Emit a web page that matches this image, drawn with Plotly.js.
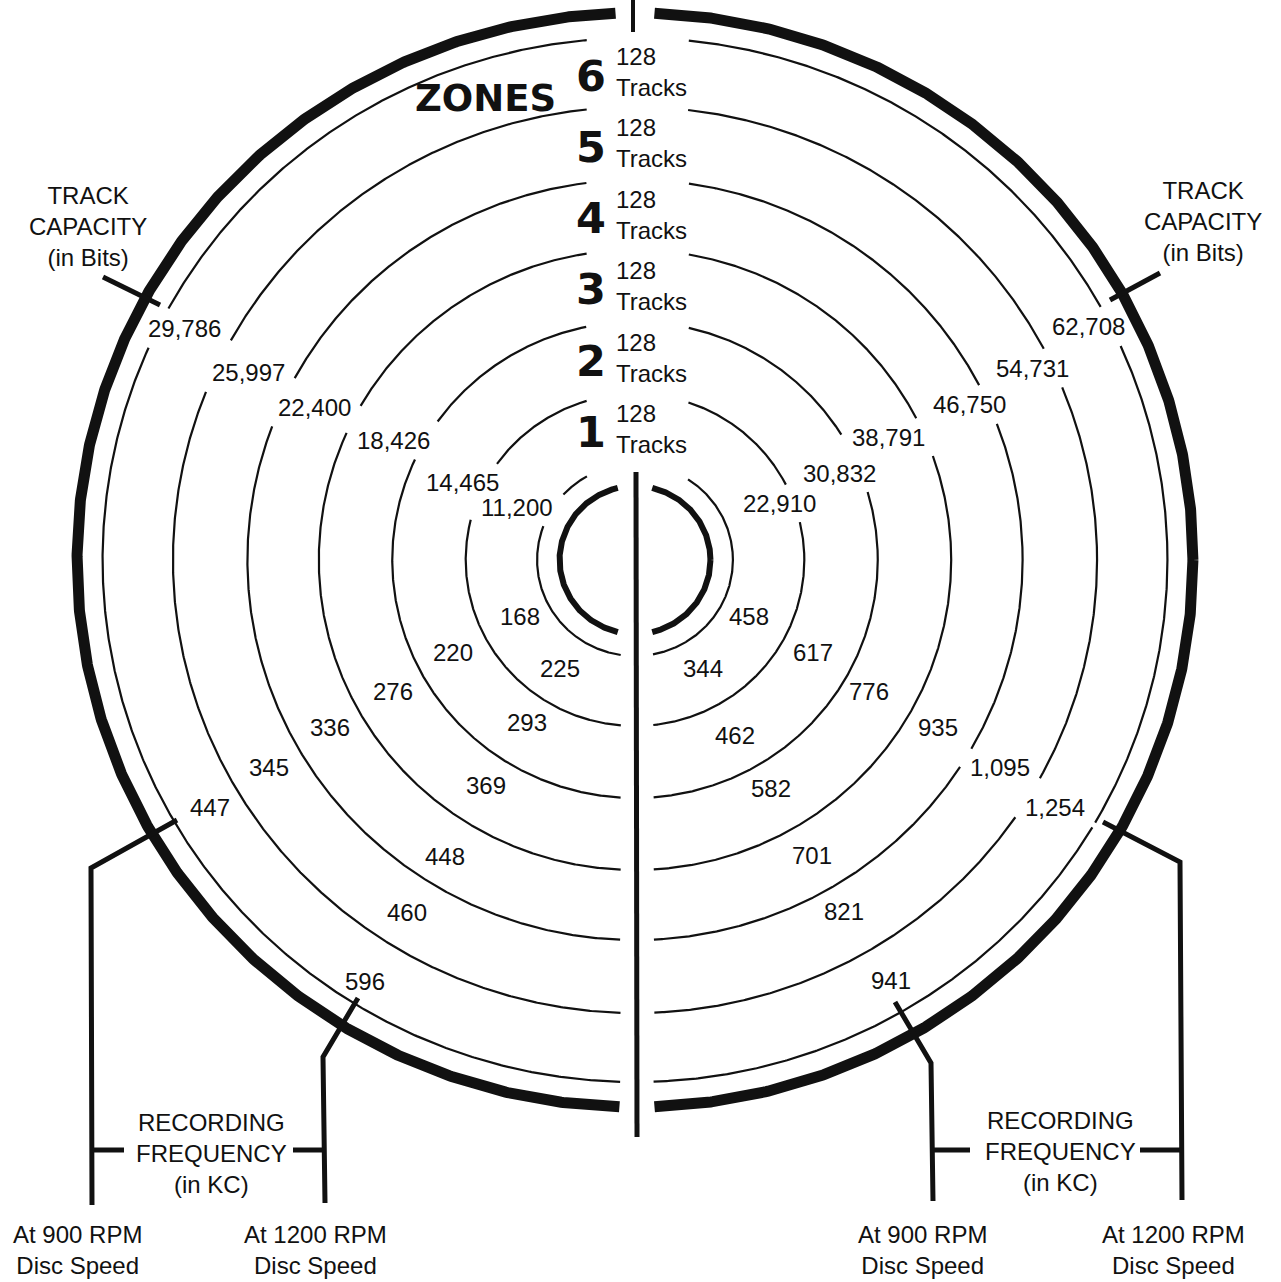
<!DOCTYPE html>
<html>
<head>
<meta charset="utf-8">
<script src="https://cdn.plot.ly/plotly-3.0.1.min.js"></script>
<style>
  html, body { margin: 0; padding: 0; background: #fff; }
  #disc { width: 1281px; height: 1282px; }
</style>
</head>
<body>
<div id="disc"></div>
<script>
/* ---- Disc zone data (zone 1 = innermost) ---- */
const zoneNames = ['1', '2', '3', '4', '5', '6'];
const tracksPerZone = [128, 128, 128, 128, 128, 128];
const capacityLeft = ['11,200', '14,465', '18,426', '22,400', '25,997', '29,786'];
const capacityRight = ['22,910', '30,832', '38,791', '46,750', '54,731', '62,708'];
const freqLeft900 = ['168', '220', '276', '336', '345', '447'];
const freqLeft1200 = ['225', '293', '369', '448', '460', '596'];
const freqRight900 = ['344', '462', '582', '701', '821', '941'];
const freqRight1200 = ['458', '617', '776', '935', '1,095', '1,254'];

/* ---- Geometry (page pixels) ---- */
const CX = 635, CY = 560, SQUASH = 1.02;
const zoneEdges = [96, 166, 238, 310, 380, 453, 522];
const HUB_R = 74, RIM_R = 547;
const INK = '#111';
const FONT = 'Liberation Sans, Arial, sans-serif';

// where each number sits, zone 1 -> 6
const capLeftAt = [[517, 507], [462, 482], [393, 440], [314, 407], [248, 372], [184, 328]];
const capRightAt = [[779, 503], [839, 473], [888, 437], [969, 404], [1032, 368], [1088, 326]];
const fL900At = [[520, 616], [453, 652], [393, 691], [330, 727], [269, 767], [210, 807]];
const fL1200At = [[560, 668], [527, 722], [486, 785], [445, 856], [407, 912], [365, 981]];
const fR900At = [[703, 668], [735, 735], [771, 788], [812, 855], [844, 911], [891, 980]];
const fR1200At = [[749, 616], [813, 652], [869, 691], [938, 727], [1000, 767], [1055, 807]];

// groups: values, anchors, which zones' labels break the ring lines
const groups = [
  [capacityLeft, capLeftAt, [0, 1, 2, 3, 4, 5]],
  [capacityRight, capRightAt, [0, 1, 2, 3, 4, 5]],
  [freqLeft900, fL900At, []],
  [freqLeft1200, fL1200At, []],
  [freqRight900, fR900At, []],
  [freqRight1200, fR1200At, [4, 5]]
];

const numberLabels = [];
groups.forEach(([vals, at, cuts]) => {
  vals.forEach((v, i) => numberLabels.push({ text: v, x: at[i][0], y: at[i][1], cut: cuts.includes(i) }));
});

// boxes the zone rings are cut around
const gapBoxes = numberLabels.filter(l => l.cut).map(l => {
  const digits = l.text.replace(/,/g, '').length;
  const commas = l.text.length - digits;
  const w = digits * 13.3 + commas * 12;
  return [l.x - w / 2 - 7, l.x + w / 2 + 7, l.y - 18, l.y + 19];
});

function inGap(x, y, top, bottom, useBoxes) {
  if (y < CY && x > top[0] && x < top[1]) return true;
  if (y >= CY && x > bottom[0] && x < bottom[1]) return true;
  return useBoxes && gapBoxes.some(b => x > b[0] && x < b[1] && y > b[2] && y < b[3]);
}

// drop stubs left between two close cuts
function dropStubs(xs, ys, minLen) {
  let start = -1, len = 0;
  for (let i = 0; i <= xs.length; i++) {
    const on = i < xs.length && xs[i] !== null;
    if (on) {
      if (start < 0) { start = i; len = 0; }
      else len += Math.hypot(xs[i] - xs[i - 1], ys[i] - ys[i - 1]);
    } else if (start >= 0) {
      const wraps = start === 0 || i === xs.length;
      if (!wraps && len < minLen) for (let j = start; j < i; j++) { xs[j] = null; ys[j] = null; }
      start = -1;
    }
  }
}

function ring(r, width, top, bottom, useBoxes) {
  const xs = [], ys = [];
  const n = 1800;
  for (let i = 0; i <= n; i++) {
    const t = 2 * Math.PI * i / n;
    const x = CX + SQUASH * r * Math.cos(t);
    const y = CY + r * Math.sin(t);
    if (inGap(x, y, top, bottom, useBoxes)) { xs.push(null); ys.push(null); }
    else { xs.push(x); ys.push(y); }
  }
  dropStubs(xs, ys, 14);
  return { x: xs, y: ys, type: 'scatter', mode: 'lines', hoverinfo: 'skip',
    line: { color: INK, width } };
}

const traces = [];
traces.push(ring(RIM_R, 11, [617, 653], [621, 653], false));
traces.push(ring(HUB_R, 6, [618, 652], [618, 652], false));
zoneEdges.forEach(r => traces.push(ring(r, 2.2, [587, 688], [621, 653], true)));

/* ---- Leader lines ---- */
const leaders = [
  [[103, 277], [160, 305]],
  [[1160, 273], [1110, 300]],
  [[177, 820], [91, 868], [92, 1205]],
  [[92, 1150], [124, 1150]],
  [[358, 998], [323, 1057], [325, 1203]],
  [[293, 1150], [324, 1150]],
  [[895, 1002], [931, 1063], [933, 1201]],
  [[933, 1150], [970, 1150]],
  [[1103, 822], [1180, 862], [1182, 1200]],
  [[1140, 1150], [1182, 1150]],
  [[636, 472], [637, 1137]],
  [[633, 0], [633, 32]]
];
leaders.forEach((pts, i) => traces.push({
  x: pts.map(p => p[0]), y: pts.map(p => p[1]), type: 'scatter', mode: 'lines',
  hoverinfo: 'skip', line: { color: INK, width: i === leaders.length - 1 ? 4 : 5 }
}));

/* ---- Text ---- */
const ann = (text, x, y, size, extra) => Object.assign({
  text, x, y, xref: 'x', yref: 'y', showarrow: false,
  xanchor: 'center', yanchor: 'middle', align: 'center',
  font: { family: FONT, size, color: INK }
}, extra || {});

const annotations = numberLabels.map(l => ann(l.text, l.x, l.y, 24));

zoneNames.forEach((z, i) => {
  const mid = (zoneEdges[i] + zoneEdges[i + 1]) / 2;
  const yd = CY - mid + 3;
  annotations.push(ann('<b>' + z + '</b>', 591, yd, 43,
    { font: { family: 'DejaVu Sans, sans-serif', size: 43, color: INK } }));
  annotations.push(ann(String(tracksPerZone[i]), 614, yd - 19, 24, { xanchor: 'left' }));
  annotations.push(ann('Tracks', 614, yd + 12, 24, { xanchor: 'left' }));
});

annotations.push(ann('<b>ZONES</b>', 485, 98, 37,
  { font: { family: 'DejaVu Sans, sans-serif', size: 37, color: INK } }));

annotations.push(ann('TRACK<br>CAPACITY<br>(in Bits)', 88, 226, 24));
annotations.push(ann('TRACK<br>CAPACITY<br>(in Bits)', 1203, 221, 24));
annotations.push(ann('RECORDING<br>FREQUENCY<br>(in KC)', 211, 1153, 24));
annotations.push(ann('RECORDING<br>FREQUENCY<br>(in KC)', 1060, 1151, 24));
annotations.push(ann('At 900 RPM<br>Disc Speed', 77, 1250, 24));
annotations.push(ann('At 1200 RPM<br>Disc Speed', 315, 1250, 24));
annotations.push(ann('At 900 RPM<br>Disc Speed', 922, 1250, 24));
annotations.push(ann('At 1200 RPM<br>Disc Speed', 1173, 1250, 24));

const layout = {
  width: 1281, height: 1282,
  margin: { l: 0, r: 0, t: 0, b: 0, pad: 0 },
  paper_bgcolor: '#ffffff', plot_bgcolor: '#ffffff',
  showlegend: false,
  xaxis: { range: [0, 1281], visible: false, fixedrange: true },
  yaxis: { range: [1282, 0], visible: false, fixedrange: true },
  annotations
};

Plotly.newPlot('disc', traces, layout, { staticPlot: true, displayModeBar: false });
</script>
</body>
</html>
